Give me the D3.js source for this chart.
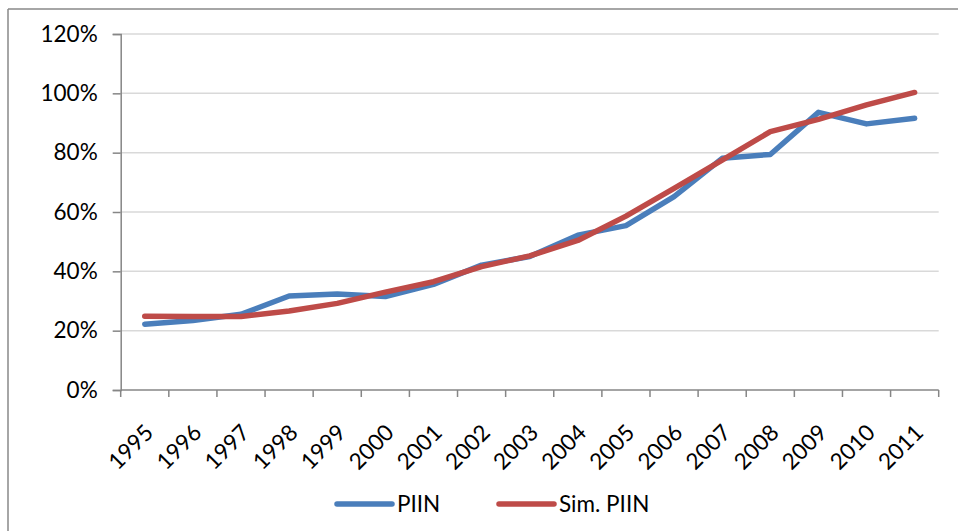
<!DOCTYPE html>
<html>
<head>
<meta charset="utf-8">
<script src="https://cdn.jsdelivr.net/npm/d3@7"></script>
<style>
  html, body { margin: 0; padding: 0; background: #fff; }
  svg { display: block; font-family: Lato, "Open Sans", sans-serif; }
</style>
</head>
<body>
<svg id="chart" width="958" height="531"></svg>
<script>
// Years on the category axis
const years = ["1995","1996","1997","1998","1999","2000","2001","2002","2003",
               "2004","2005","2006","2007","2008","2009","2010","2011"];
// PIIN, share of GDP (%)
const piin = [22.2, 23.4, 25.5, 31.7, 32.4, 31.5, 35.6, 42.1, 45.0,
              52.2, 55.4, 65.2, 78.1, 79.4, 93.6, 89.7, 91.6];
// Simulated PIIN (%)
const simPiin = [24.9, 24.8, 24.8, 26.6, 29.2, 33.0, 36.5, 41.6, 45.2,
                 50.4, 58.6, 68.0, 77.5, 87.1, 91.2, 96.1, 100.3];
// Value axis ticks (%)
const yTicks = [0, 20, 40, 60, 80, 100, 120];

const seriesNames = ["PIIN", "Sim. PIIN"];
const seriesColors = ["#4a7ebb", "#be4b48"];

const svg = d3.select("#chart");
const plot = { left: 120.7, right: 938.7, top: 34, bottom: 390 };

const x = d3.scaleBand().domain(years).range([plot.left, plot.right]).padding(0);
const y = d3.scaleLinear().domain([0, 120]).range([plot.bottom, plot.top]);

// Chart area frame (top and left edges)
svg.append("line").attr("x1", 8).attr("x2", 958).attr("y1", 9).attr("y2", 9)
  .attr("stroke", "#888").attr("stroke-width", 1.5);
svg.append("line").attr("x1", 8).attr("x2", 8).attr("y1", 9).attr("y2", 531)
  .attr("stroke", "#888").attr("stroke-width", 1.5);

// Horizontal gridlines
svg.append("g").selectAll("line").data(yTicks.filter(d => d > 0)).join("line")
  .attr("x1", plot.left).attr("x2", plot.right)
  .attr("y1", d => y(d)).attr("y2", d => y(d))
  .attr("stroke", "#d9d9d9").attr("stroke-width", 1.5);

// Value axis
const yAxis = d3.axisLeft(y).tickValues(yTicks).tickFormat(d => d + "%")
  .tickSize(8).tickPadding(15);
const gy = svg.append("g").attr("transform", `translate(${plot.left},0)`).call(yAxis);
gy.select(".domain").attr("stroke", "#868686").attr("stroke-width", 1.5);
gy.selectAll(".tick line").attr("stroke", "#868686").attr("stroke-width", 1.5);
gy.selectAll(".tick text").attr("font-size", 22.5).attr("fill", "#000")
  .attr("font-family", "Lato, sans-serif");

// Category axis: ticks at band boundaries
const gx = svg.append("g").attr("transform", `translate(0,${plot.bottom})`);
gx.append("line").attr("x1", plot.left).attr("x2", plot.right)
  .attr("stroke", "#868686").attr("stroke-width", 1.5);
const bounds = years.map(d => x(d)).concat([x(years[years.length - 1]) + x.bandwidth()]);
gx.selectAll("line.tk").data(bounds).join("line").attr("class", "tk")
  .attr("x1", d => d).attr("x2", d => d).attr("y1", 0).attr("y2", 7)
  .attr("stroke", "#868686").attr("stroke-width", 1.5);
gx.selectAll("text").data(years).join("text")
  .attr("transform", d => `translate(${x(d) + x.bandwidth() / 2 + 10},${44}) rotate(-45)`)
  .attr("text-anchor", "end")
  .attr("font-size", 22.5).attr("fill", "#000")
  .text(d => d);

// Series lines
const line = d3.line()
  .x((d, i) => x(years[i]) + x.bandwidth() / 2)
  .y(d => y(d));
[piin, simPiin].forEach((vals, k) => {
  svg.append("path").datum(vals)
    .attr("d", line)
    .attr("fill", "none")
    .attr("stroke", seriesColors[k])
    .attr("stroke-width", 5.5)
    .attr("stroke-linecap", "round")
    .attr("stroke-linejoin", "round");
});

// Legend
const legendX = [337, 499];
const legend = svg.append("g");
seriesNames.forEach((name, k) => {
  legend.append("line")
    .attr("x1", legendX[k]).attr("x2", legendX[k] + 55)
    .attr("y1", 504).attr("y2", 504)
    .attr("stroke", seriesColors[k]).attr("stroke-width", 5.5)
    .attr("stroke-linecap", "round");
  legend.append("text")
    .attr("x", legendX[k] + 60).attr("y", 512)
    .attr("font-size", 22.5).attr("fill", "#000")
    .text(name);
});
</script>
</body>
</html>
